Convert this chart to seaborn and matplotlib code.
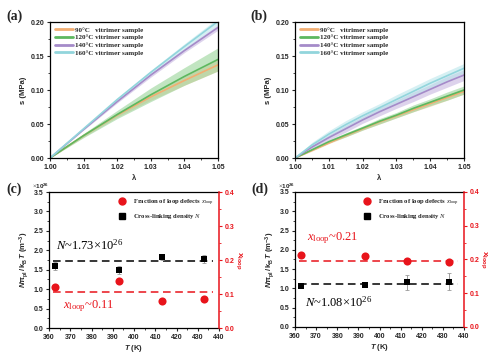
import numpy as np
import pandas as pd
import matplotlib
matplotlib.use("Agg")
import matplotlib.pyplot as plt
import seaborn as sns
from matplotlib.ticker import AutoMinorLocator, MultipleLocator, FormatStrFormatter

sns.set_style("ticks")
plt.rcParams['font.family'] = ['Liberation Sans', 'DejaVu Sans']
plt.rcParams['mathtext.fontset'] = 'custom'
plt.rcParams['mathtext.rm'] = 'Liberation Serif'
plt.rcParams['mathtext.it'] = 'Liberation Serif:italic'
plt.rcParams['mathtext.bf'] = 'Liberation Serif:bold'
plt.rcParams['mathtext.sf'] = 'Liberation Sans:bold'
plt.rcParams['mathtext.tt'] = 'Liberation Sans:bold:italic'

# ---------------- data ----------------
labels = ["90°C   vitrimer sample", "120°C vitrimer sample",
          "140°C vitrimer sample", "160°C vitrimer sample"]

lam_a = [1.00, 1.01, 1.02, 1.03, 1.04, 1.05]
a_90 = [0.0, 0.033, 0.063, 0.090, 0.114, 0.137]
a_120 = [0.0, 0.033, 0.064, 0.093, 0.120, 0.145]
a_140 = [0.0, 0.042, 0.083, 0.122, 0.158, 0.192]
a_160 = [0.0, 0.043, 0.086, 0.126, 0.164, 0.201]
a_90_sd = [0.0, 0.002, 0.003, 0.005, 0.007, 0.009]
a_120_sd = [0.0, 0.003, 0.006, 0.010, 0.013, 0.017]
a_140_sd = [0.0, 0.001, 0.002, 0.003, 0.003, 0.004]
a_160_sd = [0.0, 0.001, 0.002, 0.003, 0.004, 0.005]

lam_b = [1.000, 1.005, 1.010, 1.015, 1.020, 1.025, 1.030, 1.035, 1.040, 1.045, 1.050]
b_90 = [0.0, 0.011, 0.022, 0.033, 0.043, 0.053, 0.062, 0.071, 0.080, 0.089, 0.098]
b_120 = [0.0, 0.012, 0.024, 0.034, 0.044, 0.054, 0.063, 0.073, 0.082, 0.091, 0.100]
b_140 = [0.0, 0.016, 0.030, 0.043, 0.056, 0.068, 0.079, 0.090, 0.101, 0.112, 0.122]
b_160 = [0.0, 0.019, 0.035, 0.049, 0.062, 0.074, 0.086, 0.098, 0.110, 0.121, 0.132]
b_90_sd = [0.0, 0.001, 0.001, 0.002, 0.002, 0.003, 0.003, 0.003, 0.004, 0.004, 0.004]
b_120_sd = [0.0, 0.001, 0.002, 0.003, 0.003, 0.004, 0.004, 0.005, 0.005, 0.006, 0.006]
b_140_sd = [0.0, 0.003, 0.004, 0.005, 0.005, 0.006, 0.006, 0.007, 0.007, 0.008, 0.008]
b_160_sd = [0.0, 0.004, 0.005, 0.006, 0.006, 0.006, 0.007, 0.007, 0.007, 0.007, 0.007]

T = [363, 393, 413, 433]
c_N = [1.60, 1.49, 1.82, 1.78]
c_N_err = [0.10, 0.10, 0.08, 0.10]
c_x = [0.120, 0.139, 0.080, 0.086]
c_N_mean = 1.73
c_x_mean = 0.106

d_N = [1.05, 1.08, 1.16, 1.17]
d_N_err = [0.03, 0.04, 0.20, 0.22]
d_x = [0.213, 0.209, 0.195, 0.193]
d_N_mean = 1.11
d_x_mean = 0.195

line_cols = ["#F2AE72", "#5DB85F", "#A58BC9", "#92D5DC"]
band_cols = ["#F6C9A0", "#8FD08F", "#C2B0DE", "#B5E4EA"]

fig = plt.figure(figsize=(5.0, 3.61), dpi=100)
ax_a = fig.add_axes([0.100, 0.5623, 0.336, 0.3767])
ax_b = fig.add_axes([0.590, 0.5623, 0.338, 0.3767])
ax_c = fig.add_axes([0.098, 0.0914, 0.340, 0.3767])
ax_d = fig.add_axes([0.590, 0.0942, 0.338, 0.3740])

tick_fs = 5
serif = ['Liberation Serif', 'DejaVu Serif']


def style_axes(ax):
    for s in ax.spines.values():
        s.set_linewidth(0.9)
        s.set_visible(True)
        s.set_color("black")
    ax.tick_params(axis='both', which='major', labelsize=tick_fs, length=2.5,
                   width=0.8, pad=1.5)
    ax.tick_params(axis='both', which='minor', length=1.5, width=0.6)
    for lab in ax.get_xticklabels() + ax.get_yticklabels():
        lab.set_fontweight('bold')


def strain_panel(ax, lam, series, sds, tag):
    rows = []
    for name, vals in zip(labels, series):
        for l, v in zip(lam, vals):
            rows.append({"lam": l, "s": v, "sample": name})
    df = pd.DataFrame(rows)
    for vals, sd, bc in zip(series, sds, band_cols):
        v = np.array(vals)
        e = np.array(sd)
        ax.fill_between(lam, v - e, v + e, color=bc, alpha=0.55, lw=0)
    sns.lineplot(data=df, x="lam", y="s", hue="sample", palette=line_cols,
                 ax=ax, lw=1.2, legend=True)
    ax.set_xlim(1.00, 1.05)
    ax.set_ylim(0.0, 0.20)
    ax.xaxis.set_major_locator(MultipleLocator(0.01))
    ax.yaxis.set_major_locator(MultipleLocator(0.05))
    ax.xaxis.set_major_formatter(FormatStrFormatter('%.2f'))
    ax.yaxis.set_major_formatter(FormatStrFormatter('%.2f'))
    ax.xaxis.set_minor_locator(AutoMinorLocator(2))
    ax.yaxis.set_minor_locator(AutoMinorLocator(2))
    ax.set_xlabel("λ", fontsize=5.5, fontweight='bold', labelpad=3)
    ax.set_ylabel("s (MPa)", fontsize=5.5, fontweight='bold', labelpad=3)
    style_axes(ax)
    leg = ax.legend(loc='upper left', frameon=False,
                    prop={'family': serif, 'weight': 'bold', 'size': 5},
                    handlelength=2.6, labelspacing=0.25, borderaxespad=0.3,
                    handletextpad=0.3)
    for h in leg.get_lines():
        h.set_linewidth(2.0)
    fig.text(ax.get_position().x0 - 0.072, 0.955, tag, family=serif,
             fontweight='bold', fontsize=10, ha='center', va='center')


strain_panel(ax_a, lam_a, [a_90, a_120, a_140, a_160],
             [a_90_sd, a_120_sd, a_140_sd, a_160_sd], "(a)")
strain_panel(ax_b, lam_b, [b_90, b_120, b_140, b_160],
             [b_90_sd, b_120_sd, b_140_sd, b_160_sd], "(b)")

red = "#E8141B"


def density_panel(ax, N, Nerr, x, Nmean, xmean, tag, n_text, x_text,
                  n_pos, x_pos):
    ax2 = ax.twinx()
    ax.errorbar(T, N, yerr=Nerr, fmt='none', ecolor='#9a9a9a', elinewidth=0.7,
                capsize=1.2, capthick=0.6, zorder=2)
    ax.hlines(Nmean, 362, 437, colors='black', linestyles=(0, (5, 3)), lw=1.1,
              zorder=1)
    ax2.hlines(xmean, 362, 437, colors=red, linestyles=(0, (5, 3)), lw=1.1,
               zorder=1)
    dfN = pd.DataFrame({"T": T, "N": N})
    dfx = pd.DataFrame({"T": T, "x": x})
    sns.scatterplot(data=dfN, x="T", y="N", marker='s', color='black', s=24,
                    ax=ax, zorder=3, edgecolor='black', linewidth=0)
    sns.scatterplot(data=dfx, x="T", y="x", marker='o', color=red, s=34,
                    ax=ax2, zorder=3, edgecolor=red, linewidth=0)
    ax.set_xlim(360, 440)
    ax.set_ylim(0, 3.5)
    ax2.set_ylim(0, 0.4)
    ax.xaxis.set_major_locator(MultipleLocator(10))
    ax.yaxis.set_major_locator(MultipleLocator(0.5))
    ax.yaxis.set_major_formatter(FormatStrFormatter('%.1f'))
    ax.xaxis.set_minor_locator(AutoMinorLocator(2))
    ax.yaxis.set_minor_locator(AutoMinorLocator(2))
    ax2.yaxis.set_major_locator(MultipleLocator(0.1))
    ax2.yaxis.set_major_formatter(FormatStrFormatter('%.1f'))
    ax2.yaxis.set_minor_locator(AutoMinorLocator(2))
    style_axes(ax)
    ax.spines['right'].set_visible(False)
    ax2.spines['right'].set_color(red)
    ax2.spines['right'].set_linewidth(1.1)
    ax2.spines['left'].set_visible(False)
    ax2.spines['top'].set_visible(False)
    ax2.spines['bottom'].set_visible(False)
    ax2.tick_params(axis='y', which='major', labelsize=tick_fs, length=2.5,
                    width=0.8, pad=1.5, colors=red)
    ax2.tick_params(axis='y', which='minor', length=1.5, width=0.6, colors=red)
    for lab in ax2.get_yticklabels():
        lab.set_fontweight('bold')
    ax.set_xlabel(r"$\mathtt{T}$ (K)", fontsize=5.5, fontweight='bold',
                  labelpad=2)
    ax.set_ylabel(r"$\mathtt{N}\mathsf{\pi_{pl}\,/\,k_{B}}\,\mathtt{T}$ (m$^{\mathsf{-3}}$)",
                  fontsize=5.5, fontweight='bold', labelpad=2)
    ax2.set_ylabel(r"$\mathsf{x_{loop}}$", fontsize=6, color=red,
                   rotation=270, labelpad=7)
    ax.text(-0.05, 1.045, r"$\times\mathsf{10^{26}}$", transform=ax.transAxes,
            fontsize=4.5, ha='center', va='center')
    ax.text(n_pos[0], n_pos[1], n_text, transform=ax.transAxes,
            family=serif, fontsize=9, color='black', ha='left', va='center')
    ax.text(x_pos[0], x_pos[1], x_text, transform=ax.transAxes,
            family=serif, fontsize=9, color=red, ha='left', va='center')
    handles = [
        plt.Line2D([], [], marker='o', color=red, ls='none', markersize=5),
        plt.Line2D([], [], marker='s', color='black', ls='none', markersize=4.5),
    ]
    leg_labels = [r"Fraction of loop defects $\mathit{x}_{\mathrm{loop}}$",
                  r"Cross-linking density $\mathit{N}$"]
    ax2.legend(handles, leg_labels, loc='upper right', frameon=False,
               prop={'family': serif, 'weight': 'bold', 'size': 4.8},
               handletextpad=0.6, labelspacing=0.7, borderaxespad=0.4)
    fig.text(ax.get_position().x0 - 0.07, 0.475, tag, family=serif,
             fontweight='bold', fontsize=10, ha='center', va='center')
    return ax2


ax2c = density_panel(ax_c, c_N, c_N_err, c_x, c_N_mean, c_x_mean, "(c)",
                     r"$\mathit{N}$~1.73×10$^{26}$",
                     r"$\mathit{x}_{\mathrm{loop}}$~0.11",
                     (0.04, 0.61), (0.08, 0.16))
ax2d = density_panel(ax_d, d_N, d_N_err, d_x, d_N_mean, d_x_mean, "(d)",
                     r"$\mathit{N}$~1.08×10$^{26}$",
                     r"$\mathit{x}_{\mathrm{loop}}$~0.21",
                     (0.06, 0.18), (0.07, 0.66))

fig.savefig("out.png", dpi=100)
